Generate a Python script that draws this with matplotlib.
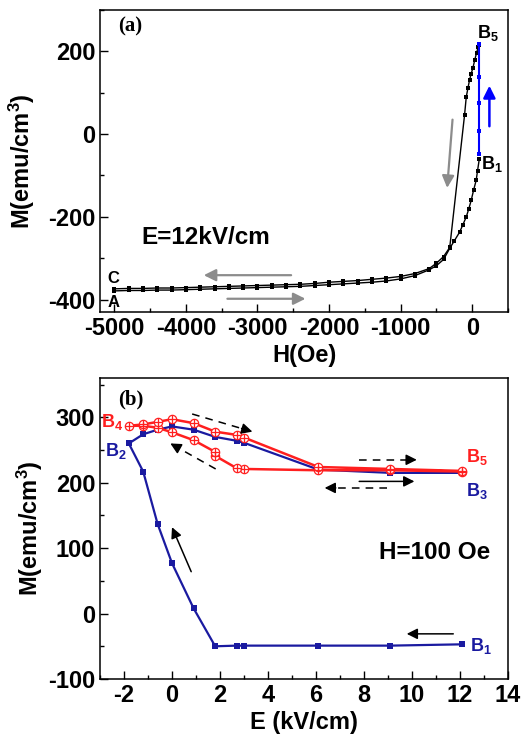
import matplotlib
matplotlib.use("Agg")
import matplotlib.pyplot as plt
from matplotlib.ticker import MultipleLocator

# ---------------- data: panel (a) ----------------
H_lower = [-5000, -4800, -4600, -4400, -4200, -4000, -3800, -3600, -3400, -3200,
           -3000, -2800, -2600, -2400, -2200, -2000, -1800, -1600, -1400, -1200,
           -1000, -800, -600, -500, -400, -314, -250, -176, -130, -83, -50, -14,
           20, 55, 75, 100]
M_lower = [-379, -378, -378, -377, -377, -376, -375, -374, -373, -372,
           -371, -370, -369, -368, -366, -364, -362, -360, -358, -355,
           -350, -342, -328, -318, -303, -276, -258, -237, -219, -200, -182, -160,
           -135, -112, -88, -59]
H_upper = [100, 85, 60, 35, 10, -15, -37, -60, -83, -107, -314, -400, -500, -600,
           -800, -1000, -1200, -1400, -1600, -1800, -2000, -2200, -2400, -2600,
           -2800, -3000, -3200, -3400, -3600, -3800, -4000, -4200, -4400, -4600,
           -4800, -5000]
M_upper = [215, 211, 196, 179, 160, 146, 131, 111, 90, 46, -274, -296, -312, -325,
           -337, -344, -348, -351, -354, -356, -358, -361, -363, -364,
           -365, -366, -367, -368, -369, -370, -371, -372, -372, -373,
           -373, -374]
H_step = [100, 100, 100, 100, 100]
M_step = [-48, 8, 76, 137, 218]

# ---------------- data: panel (b) ----------------
E_blue = [12.1, 9.1, 6.1, 3.0, 2.7, 1.8, 0.9, 0.0, -0.6, -1.2, -1.8,
          -1.2, -0.6, 0.0, 0.9, 1.8, 2.7, 3.0, 6.1, 9.1, 12.1]
M_blue = [-47, -49, -49, -49, -49, -50, 8, 77, 137, 217, 260,
          274, 281, 286, 281, 270, 264, 261, 220, 215, 215]
E_red = [12.1, 9.1, 6.1, 3.0, 2.7, 1.8, 1.8, 0.9, 0.0, -0.6, -1.2, -1.8,
         -1.2, -0.6, 0.0, 0.9, 1.8, 2.7, 3.0, 6.1, 9.1, 12.1]
M_red = [217, 219, 219, 221, 222, 241, 247, 265, 277, 284, 287, 287,
         289, 293, 297, 291, 278, 273, 269, 224, 221, 218]

# ---------------- style ----------------
plt.rcParams['font.family'] = ['Liberation Sans', 'DejaVu Sans']
plt.rcParams['font.weight'] = 'bold'
plt.rcParams['axes.unicode_minus'] = False
plt.rcParams['mathtext.fontset'] = 'custom'
plt.rcParams['mathtext.rm'] = 'Liberation Sans:bold'
plt.rcParams['mathtext.it'] = 'Liberation Sans:bold'
plt.rcParams['mathtext.bf'] = 'Liberation Sans:bold'
plt.rcParams['mathtext.default'] = 'rm'

FS = 17
FT = 17.5
RED = '#ff1f1f'
NAVY = '#1a1aa0'
GRAY = '#8c8c8c'

fig = plt.figure(figsize=(5.27, 7.34), dpi=100)
axA = fig.add_axes([100/527, 1-312/734, 408/527, 302/734])
axB = fig.add_axes([100/527, 1-679/734, 408/527, 301/734])

for ax in (axA, axB):
    ax.tick_params(which='both', direction='in', top=False, right=False,
                   labelsize=FS, width=1)
    ax.tick_params(which='major', length=6)
    ax.tick_params(which='minor', length=3)
    for s in ax.spines.values():
        s.set_linewidth(1.1)

# ---------------- panel (a) ----------------
axA.plot(H_lower, M_lower, '-s', color='black', lw=1, ms=3, mew=0)
axA.plot(H_upper, M_upper, '-s', color='black', lw=1, ms=3, mew=0)
axA.plot(H_step, M_step, '-s', color='#0000ff', lw=1.5, ms=3.2, mew=0)
axA.set_xlim(-5200, 500)
axA.set_ylim(-430, 300)
axA.xaxis.set_major_locator(MultipleLocator(1000))
axA.xaxis.set_minor_locator(MultipleLocator(500))
axA.yaxis.set_major_locator(MultipleLocator(200))
axA.yaxis.set_minor_locator(MultipleLocator(100))
axA.set_xlabel('H(Oe)', fontsize=FS, fontweight='bold')
axA.set_ylabel('M(emu/cm$^3$)', fontsize=FS, fontweight='bold')
axA.xaxis.set_label_coords(0.5, -0.105)
axA.yaxis.set_label_coords(-0.155, 0.5)

axA.text(0.044, 0.944, '(a)', transform=axA.transAxes, fontsize=15,
         fontweight='bold', family=['Liberation Serif'], va='center', ha='left')
axA.text(60, 232, 'B$_5$', fontsize=13, ha='left', va='baseline')
axA.text(125, -85, 'B$_1$', fontsize=13, ha='left', va='baseline')
axA.text(-5100, -348, 'C', fontsize=12, ha='left', va='center')
axA.text(-5090, -406, 'A', fontsize=12, ha='left', va='center')
axA.text(-4620, -250, 'E=12kV/cm', fontsize=FT, ha='left', va='center')

ap_gray = dict(arrowstyle='-|>', color=GRAY, lw=1.6, mutation_scale=18,
               shrinkA=0, shrinkB=0)
axA.annotate('', xy=(-3750, -341), xytext=(-2530, -341), arrowprops=ap_gray)
axA.annotate('', xy=(-2330, -398), xytext=(-3420, -398), arrowprops=ap_gray)
axA.annotate('', xy=(-350, -130), xytext=(-275, 35), arrowprops=ap_gray)
axA.annotate('', xy=(240, 117), xytext=(240, 19),
             arrowprops=dict(arrowstyle='-|>', color='#0000ff', lw=1.8,
                             mutation_scale=18, shrinkA=0, shrinkB=0))

# ---------------- panel (b) ----------------
axB.plot(E_blue, M_blue, '-s', color=NAVY, lw=1.6, ms=5, mew=0)
axB.plot(E_red, M_red, '-', color=RED, lw=1.8)
axB.plot(E_red, M_red, 'o', mfc='white', mec=RED, ms=6, mew=0.9)
axB.plot(E_red, M_red, '+', color=RED, ms=6, mew=0.9)
axB.set_xlim(-3, 14)
axB.set_ylim(-100, 360)
axB.xaxis.set_major_locator(MultipleLocator(2))
axB.xaxis.set_minor_locator(MultipleLocator(1))
axB.yaxis.set_major_locator(MultipleLocator(100))
axB.yaxis.set_minor_locator(MultipleLocator(50))
axB.set_xlabel('E (kV/cm)', fontsize=FS, fontweight='bold')
axB.set_ylabel('M(emu/cm$^3$)', fontsize=FS, fontweight='bold')
axB.xaxis.set_label_coords(0.5, -0.105)
axB.yaxis.set_label_coords(-0.135, 0.5)

axB.text(0.044, 0.93, '(b)', transform=axB.transAxes, fontsize=15,
         fontweight='bold', family=['Liberation Serif'], va='center', ha='left')
axB.text(-2.96, 285, 'B$_4$', fontsize=13, color=RED, ha='left', va='baseline')
axB.text(-2.78, 241, 'B$_2$', fontsize=13, color=NAVY, ha='left', va='baseline')
axB.text(12.24, 231, 'B$_5$', fontsize=13, color=RED, ha='left', va='baseline')
axB.text(12.25, 180, 'B$_3$', fontsize=13, color=NAVY, ha='left', va='baseline')
axB.text(12.4, -57, 'B$_1$', fontsize=13, color=NAVY, ha='left', va='baseline')
axB.text(8.63, 94, 'H=100 Oe', fontsize=FT, ha='left', va='center')


def arrow(ax, x0, y0, x1, y1, dashed=False):
    if dashed:
        fx = x0 + 0.82 * (x1 - x0)
        fy = y0 + 0.82 * (y1 - y0)
        ax.plot([x0, fx], [y0, fy], color='black', lw=1.1, ls=(0, (5, 4)))
        ax.annotate('', xy=(x1, y1), xytext=(fx, fy),
                    arrowprops=dict(arrowstyle='-|>', color='black', lw=1.1,
                                    mutation_scale=16, shrinkA=0, shrinkB=0))
    else:
        ax.annotate('', xy=(x1, y1), xytext=(x0, y0),
                    arrowprops=dict(arrowstyle='-|>', color='black', lw=1.1,
                                    mutation_scale=16, shrinkA=0, shrinkB=0))


arrow(axB, 0.84, 305, 3.35, 278, dashed=True)
arrow(axB, 1.82, 221, -0.07, 260, dashed=True)
arrow(axB, 7.8, 235, 10.2, 235, dashed=True)
arrow(axB, 7.8, 202, 10.1, 202)
arrow(axB, 8.94, 192, 6.36, 192, dashed=True)
arrow(axB, 0.8, 64, 0.0, 132)
arrow(axB, 11.72, -31, 9.78, -31)

fig.savefig('out.png', dpi=100)
